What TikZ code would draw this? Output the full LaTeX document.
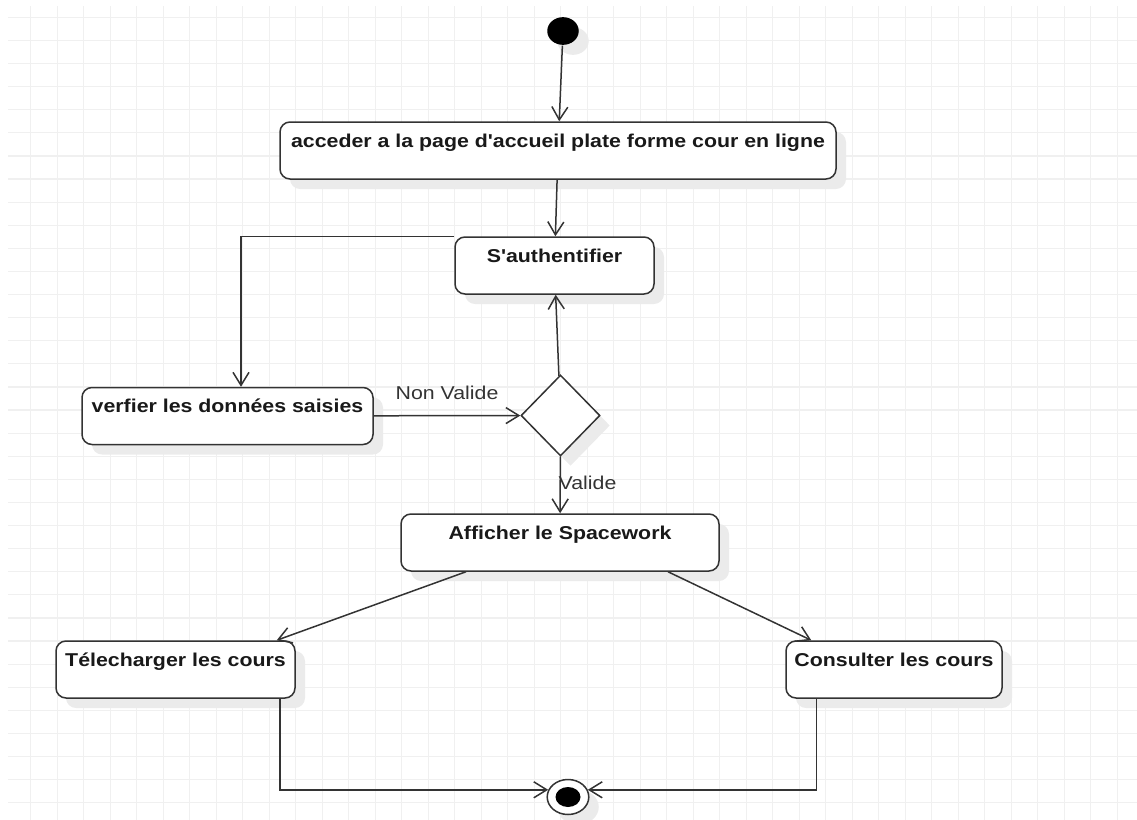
\documentclass[tikz,border=0pt]{standalone}
\usepackage{fontspec}
\newfontfamily\diafont{Liberation Sans}[FakeStretch=1.147]
\usetikzlibrary{shapes.geometric}
\usetikzlibrary{arrows.meta}
\usetikzlibrary{shadows}
\definecolor{inkcol}{HTML}{333333}
\definecolor{gridcol}{HTML}{F0F0F0}
\definecolor{shadecol}{HTML}{EBEBEB}

\begin{document}
\begin{tikzpicture}[x=0.5pt, y=-0.5pt, line width=0.75pt,
  >={Straight Barb[length=6.5pt,width=8pt]},
  softshadow/.style={drop shadow={shadow xshift=5pt, shadow yshift=-5pt, fill=shadecol, opacity=1}},
  activity/.style={draw=inkcol, fill=white, rounded corners=5pt, inner xsep=0pt, inner ysep=0pt,
    text height=12.5pt, text depth=16pt, text=black!90, softshadow,
    font=\diafont\fontsize{9.3pt}{11pt}\selectfont\bfseries},
  flow/.style={->, draw=inkcol},
  guard/.style={text=inkcol, font=\diafont\fontsize{9.3pt}{11pt}\selectfont}]
  \useasboundingbox (0,0) rectangle (1137,820);
  % grid background
  \foreach \gx in {0,...,41}
    \draw[gridcol, line width=0.6pt] (30.7+26.5*\gx,6) -- (30.7+26.5*\gx,820);
  \foreach \gy in {0,...,34}
    \draw[gridcol, line width=0.6pt] (8,17.3+23.1*\gy) -- (1137,17.3+23.1*\gy);

  \node[ellipse, fill=black, inner sep=0pt, minimum width=15.75pt, minimum height=13.85pt,
    softshadow] (Start) at (563,31) {};
  \node[activity, minimum width=278pt] (Accueil) at (558,150.5)
    {acceder a la page d'accueil plate forme cour en ligne};
  \node[activity, minimum width=99.5pt] (Auth) at (554.5,265.5) {S'authentifier};
  \node[activity, minimum width=145.5pt] (Verif) at (227.5,416) {verfier les données saisies};
  \node[diamond, draw=inkcol, fill=white, inner sep=0pt, minimum width=39.5pt,
    minimum height=40.5pt, softshadow] (Choix) at (560.5,415.5) {};
  \node[activity, minimum width=159pt] (Espace) at (560,542.5) {Afficher le Spacework};
  \node[activity, minimum width=119.5pt] (Telecharger) at (175.5,669.5) {Télecharger les cours};
  \node[activity, minimum width=108pt] (Consulter) at (894,669.5) {Consulter les cours};
  \node[ellipse, draw=inkcol, fill=white, inner sep=0pt, minimum width=20.8pt,
    minimum height=17.5pt, softshadow,
    path picture={\fill[black] (path picture bounding box.center) ellipse (6.25pt and 5pt);}]
    (Fin) at (568,797) {};

  \draw[flow] (Start) -- (Accueil);
  \draw[flow] (Accueil) -- (Auth);
  \draw[flow] (Auth.north west) -| ([xshift=6.75pt]Verif.north);
  \draw[flow] (Verif) -- node[guard, above=4.4pt] {Non Valide} (Choix);
  \draw[flow] (Choix) -- (Auth);
  \draw[flow] (Choix) -- node[guard, pos=0.47, anchor=west, xshift=-4.5pt] {Valide} (Espace);
  \draw[flow] ([xshift=-47pt]Espace.south) -- ([xshift=-9.5pt]Telecharger.north east);
  \draw[flow] ([xshift=54pt]Espace.south) -- ([xshift=13pt]Consulter.north west);
  \draw[flow] ([xshift=-8pt]Telecharger.south east) |- (Fin.160);
  \draw[flow] ([xshift=15.5pt]Consulter.south west) |- (Fin.20);
\end{tikzpicture}
\end{document}
